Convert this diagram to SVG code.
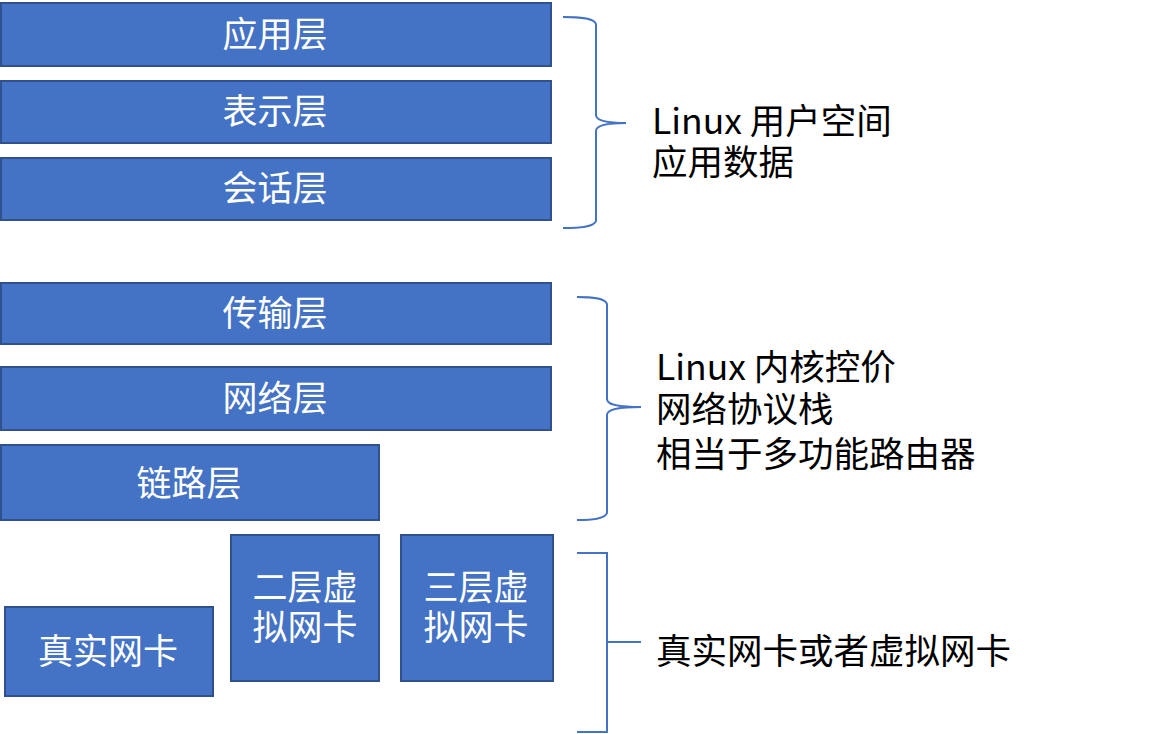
<svg xmlns="http://www.w3.org/2000/svg" width="1152" height="734" viewBox="0 0 1152 734">
<style>
.box{fill:#4472C4;stroke:#2F528F;stroke-width:2}
.bt{fill:#fff;font-family:"Noto Sans CJK SC","Noto Sans",sans-serif;font-size:35px;text-anchor:middle}
.lt{fill:#000;font-family:"Noto Sans CJK SC","Noto Sans",sans-serif;font-size:35.5px}
.br{fill:none;stroke:#4472C4;stroke-width:2}
</style>
<rect width="1152" height="734" fill="#fff"/>
<g id="n-app"><rect class="box" x="1" y="3" width="550" height="63"/><text class="bt" x="275" y="47">应用层</text></g>
<g id="n-pres"><rect class="box" x="1" y="81" width="550" height="62"/><text class="bt" x="275" y="124">表示层</text></g>
<g id="n-sess"><rect class="box" x="1" y="158" width="550" height="62"/><text class="bt" x="275" y="201">会话层</text></g>
<g id="n-trans"><rect class="box" x="1" y="283" width="550" height="61"/><text class="bt" x="275" y="326">传输层</text></g>
<g id="n-net"><rect class="box" x="1" y="367" width="550" height="63"/><text class="bt" x="275" y="411">网络层</text></g>
<g id="n-link"><rect class="box" x="1" y="445" width="378" height="75"/><text class="bt" x="189" y="496">链路层</text></g>
<g id="n-real"><rect class="box" x="5" y="607" width="208" height="89"/><text class="bt" x="108" y="664">真实网卡</text></g>
<g id="n-l2"><rect class="box" x="231" y="535" width="148" height="146"/><text class="bt" x="305" y="600">二层虚</text><text class="bt" x="305" y="640">拟网卡</text></g>
<g id="n-l3"><rect class="box" x="401" y="535" width="152" height="146"/><text class="bt" x="476" y="600">三层虚</text><text class="bt" x="476" y="640">拟网卡</text></g>
<g id="connectors">
<path class="br" d="M563,17 C580,17 594,18 596,24 L596,115 C596,120 604,123 626,123 M596,131 C596,126 604,123 626,123 M596,131 L596,221 C594,227 580,228 563,228"/>
<path class="br" d="M577,297 C592,297 605,298 607,304 L607,399 C607,404 615,407 641,407 M607,415 C607,410 615,407 641,407 M607,415 L607,513 C605,519 592,520 577,520"/>
<path class="br" d="M577,553 L607,553 L607,732 L577,732 M607,642 L641,642"/>
</g>
<g id="labels">
<text class="lt" x="652" y="134">Linux 用户空间</text>
<text class="lt" x="652" y="175">应用数据</text>
<text class="lt" x="656" y="380">Linux 内核控价</text>
<text class="lt" x="656" y="422">网络协议栈</text>
<text class="lt" x="656" y="467">相当于多功能路由器</text>
<text class="lt" x="656" y="664">真实网卡或者虚拟网卡</text>
</g>
</svg>
